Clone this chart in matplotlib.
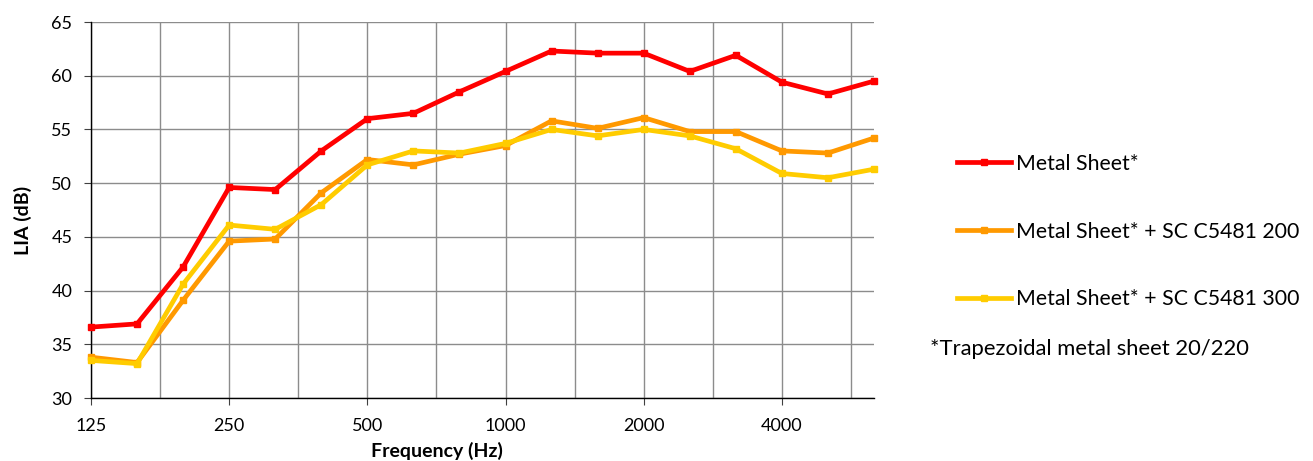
import matplotlib
matplotlib.use("Agg")
import matplotlib.pyplot as plt
import numpy as np

freqs = ["125", "160", "200", "250", "315", "400", "500", "630", "800", "1000",
         "1250", "1600", "2000", "2500", "3150", "4000", "5000", "6300"]
metal = [36.6, 36.9, 42.2, 49.6, 49.4, 53.0, 56.0, 56.5, 58.5, 60.4,
         62.3, 62.1, 62.1, 60.4, 61.9, 59.4, 58.3, 59.5]
metal_200 = [33.8, 33.3, 39.1, 44.6, 44.8, 49.1, 52.2, 51.7, 52.7, 53.5,
             55.8, 55.1, 56.1, 54.8, 54.8, 53.0, 52.8, 54.2]
metal_300 = [33.5, 33.2, 40.6, 46.1, 45.7, 48.0, 51.7, 53.0, 52.8, 53.7,
             55.0, 54.4, 55.0, 54.4, 53.2, 50.9, 50.5, 51.3]
labels = ["Metal Sheet*", "Metal Sheet* + SC C5481 200", "Metal Sheet* + SC C5481 300"]
colors = ["#FF0000", "#FF9900", "#FFCC00"]
tick_labels = ["125", "250", "500", "1000", "2000", "4000"]
footnote = "*Trapezoidal metal sheet 20/220"

plt.rcParams['font.family'] = ['Lato', 'DejaVu Sans']

W, H = 1313, 461
fig = plt.figure(figsize=(W / 100, H / 100), dpi=100)
ax = fig.add_axes([91 / W, 1 - 398 / H, (874 - 91) / W, (398 - 22) / H])

x = np.arange(len(freqs))
series = [metal, metal_200, metal_300]
handles = []
for vals, lab, col in zip(series, labels, colors):
    h, = ax.plot(x, vals, color=col, lw=3.4, marker='s', ms=5, label=lab,
                 solid_joinstyle='round', zorder=3, clip_on=False)
    handles.append(h)

ax.set_xlim(0, len(freqs) - 1)
ax.set_ylim(30, 65)
ax.set_yticks(np.arange(30, 66, 5))
tick_pos = [freqs.index(t) for t in tick_labels]
ax.set_xticks(tick_pos)
ax.set_xticklabels(tick_labels)
ax.set_xticks(np.arange(1.5, len(freqs) - 1, 1.5), minor=True)
ax.tick_params(axis='x', which='minor', length=0)
ax.tick_params(axis='both', which='major', labelsize=13, direction='out', length=5,
               width=0.8, color='#404040')
ax.tick_params(axis='x', which='major', pad=9.5)
ax.tick_params(axis='y', which='major', pad=8.5)

ax.grid(True, which='major', axis='y', color='#8C8C8C', lw=1)
ax.grid(True, which='both', axis='x', color='#8C8C8C', lw=1)
ax.set_axisbelow(True)
for s in ['top', 'right']:
    ax.spines[s].set_visible(False)
for s in ['left', 'bottom']:
    ax.spines[s].set_color('#000000')
    ax.spines[s].set_linewidth(1)

ax.set_xlabel("Frequency (Hz)", fontsize=14, fontweight='bold')
ax.xaxis.set_label_coords((437 - 91) / (874 - 91), -(442 - 398) / (398 - 22))
ax.set_ylabel("LIA (dB)", fontsize=14, fontweight='bold')
ax.yaxis.set_label_coords(-(91 - 32) / (874 - 91), (398 - 220) / (398 - 22))

leg = fig.legend(handles=handles, labels=labels, loc='center left',
                 bbox_to_anchor=(957 / W, 1 - 231.5 / H), frameon=False,
                 fontsize=15.3, handlelength=2.55, handletextpad=0.25,
                 labelspacing=2.24, borderaxespad=0, borderpad=0)
for lh in leg.get_lines():
    lh.set_markersize(4)

fig.text(930 / W, 1 - 349 / H, footnote, fontsize=15.8, va='center', ha='left')

fig.savefig("out.png", dpi=100)
